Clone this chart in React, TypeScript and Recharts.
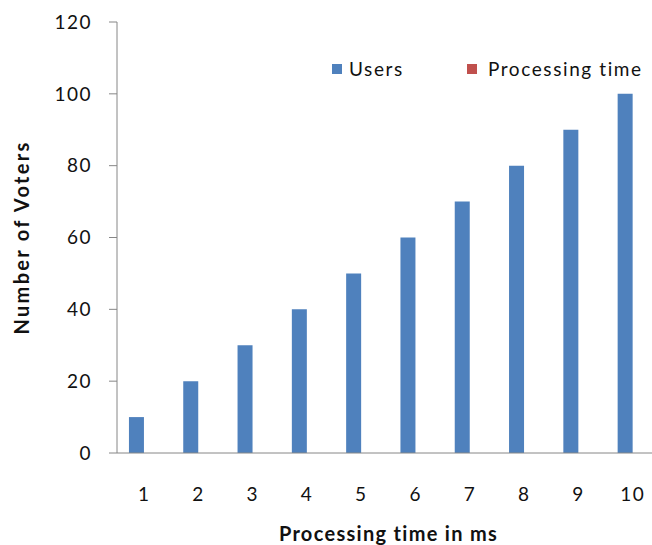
import React from 'react';
import { BarChart, Bar, XAxis, YAxis, Legend } from 'recharts';

const categories = ['1', '2', '3', '4', '5', '6', '7', '8', '9', '10'];
const users = [10, 20, 30, 40, 50, 60, 70, 80, 90, 100];
const processingTime = [0, 0, 0, 0, 0, 0, 0, 0, 0, 0];
const yTicks = [0, 20, 40, 60, 80, 100, 120];

const data = categories.map((c, i) => ({
  name: c,
  users: users[i],
  processing: processingTime[i],
}));

const FONT = 'Lato, "Open Sans", sans-serif';

const renderLegend = () => (
  <div style={{ display: 'flex', alignItems: 'center', fontFamily: FONT, fontSize: 19, letterSpacing: 1.6, color: '#111' }}>
    <div style={{ width: 10, height: 10, background: '#4F81BD', marginRight: 7 }} />
    <span style={{ marginRight: 63 }}>Users</span>
    <div style={{ width: 10, height: 10, background: '#C0504D', marginRight: 11 }} />
    <span>Processing time</span>
  </div>
);

const App: React.FC = () => {
  return (
    <div style={{ position: 'fixed', left: 0, top: 0, width: 652, height: 545, overflow: 'hidden', background: '#fff' }}>
      <BarChart
        width={670}
        height={545}
        data={data}
        margin={{ top: 22, right: 10, bottom: 0, left: 0 }}
        barGap={0}
        barCategoryGap="22%"
      >
        <XAxis
          dataKey="name"
          axisLine={{ stroke: '#868686' }}
          tickLine={false}
          tickSize={0}
          tickMargin={35}
          height={92}
          tick={{ fill: '#111', fontSize: 19, fontFamily: FONT, letterSpacing: 1.5 }}
          label={{
            value: 'Processing time in ms',
            position: 'insideBottom',
            offset: 4,
            style: { fill: '#111', fontSize: 20, fontWeight: 'bold', fontFamily: FONT, letterSpacing: 1.3 },
          }}
        />
        <YAxis
          width={117}
          domain={[0, 120]}
          ticks={yTicks}
          interval={0}
          axisLine={{ stroke: '#868686' }}
          tickLine={{ stroke: '#868686' }}
          tickSize={8}
          tickMargin={17}
          tick={{ fill: '#111', fontSize: 19, fontFamily: FONT, letterSpacing: 1.5 }}
          label={{
            value: 'Number of Voters',
            angle: -90,
            position: 'insideLeft',
            offset: 22,
            style: { textAnchor: 'middle', fill: '#111', fontSize: 20, fontWeight: 'bold', fontFamily: FONT, letterSpacing: 2.3 },
          }}
        />
        <Legend
          content={renderLegend}
          layout="horizontal"
          verticalAlign="middle"
          wrapperStyle={{ position: 'absolute', left: 332, top: 57, width: 330 }}
        />
        <Bar dataKey="users" name="Users" fill="#4F81BD" isAnimationActive={false} />
        <Bar dataKey="processing" name="Processing time" fill="#C0504D" isAnimationActive={false} />
      </BarChart>
    </div>
  );
};

export default App;
